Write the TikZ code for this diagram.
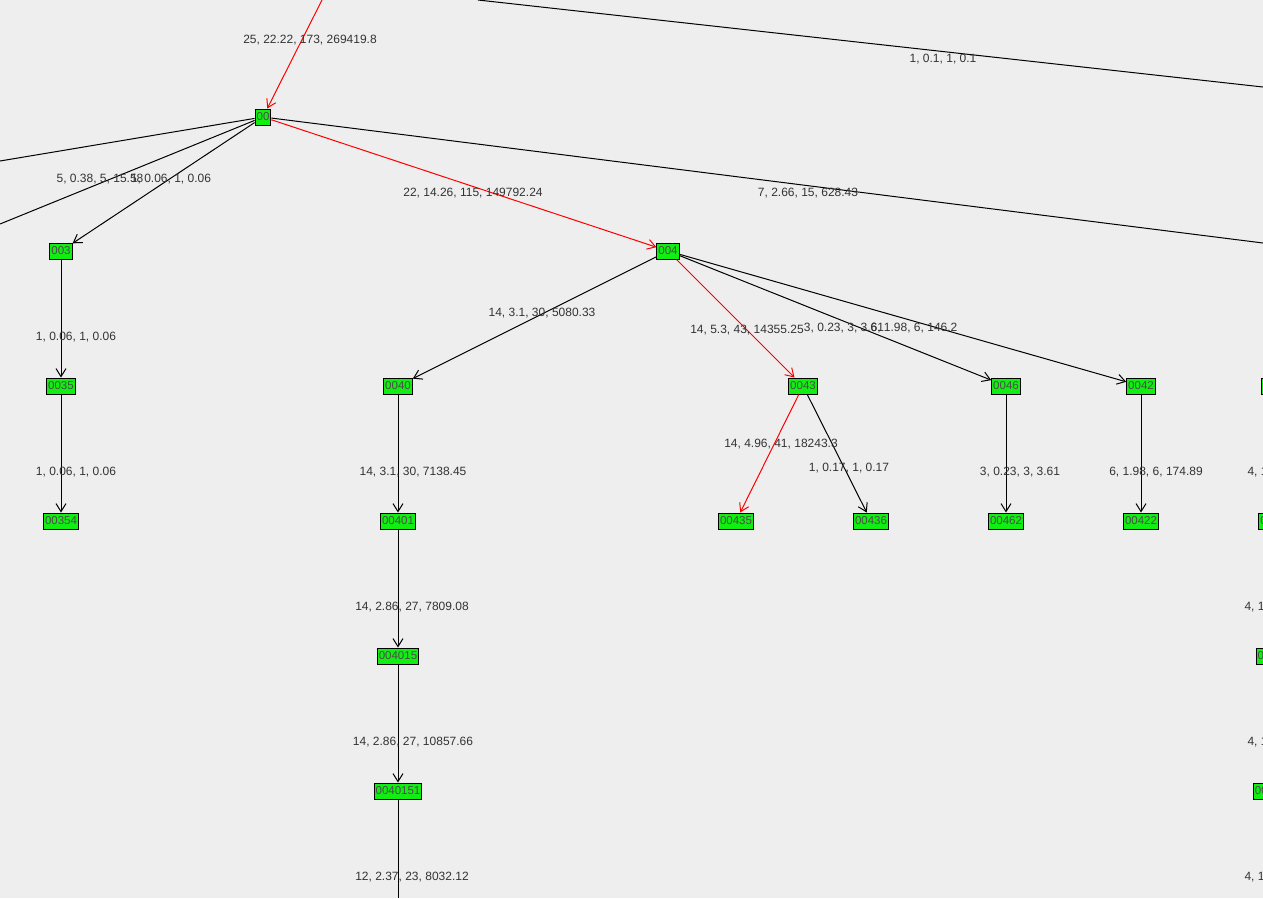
\documentclass[tikz,border=0pt]{standalone}
\usepackage{fontspec}
\setmainfont{Liberation Sans}
\usetikzlibrary{arrows.meta}
\definecolor{bg}{HTML}{EEEEEE}
\definecolor{ng}{HTML}{11EE11}
\definecolor{tx}{HTML}{333333}
\tikzset{
  nd/.style={draw=black,fill=ng,inner sep=1.5pt,minimum height=16pt,font=\fontsize{11.5}{11.5}\selectfont,text=black!70},
  ed/.style={draw=black,-{Straight Barb[length=8pt,width=10pt]}},
  red/.style={draw=red},
  lb/.style={font=\fontsize{12}{12}\selectfont,text=tx,inner sep=0pt}
}
\begin{document}
\begin{tikzpicture}[x=1pt,y=-1pt,line width=1pt]
\useasboundingbox (0,0) rectangle (1263,898);
\fill[bg] (0,0) rectangle (1263,898);
\clip (0,0) rectangle (1263,898);
\node[nd] (n00) at (263,117) {00};
\node[nd] (n003) at (61,251) {003};
\node[nd] (n0035) at (61,386) {0035};
\node[nd] (n00354) at (61,521) {00354};
\node[nd] (n004) at (668,251) {004};
\node[nd] (n0040) at (398,386) {0040};
\node[nd] (n00401) at (398,521) {00401};
\node[nd] (n004015) at (398,656) {004015};
\node[nd] (n0040151) at (398,791) {0040151};
\node[nd] (n0043) at (803,386) {0043};
\node[nd] (n00435) at (736,521) {00435};
\node[nd] (n00436) at (871,521) {00436};
\node[nd] (n0046) at (1006,386) {0046};
\node[nd] (n00462) at (1006,521) {00462};
\node[nd] (n0042) at (1141,386) {0042};
\node[nd] (n00422) at (1141,521) {00422};
\node[nd] (r1) at (1276,386) {0041};
\node[nd] (r2) at (1276,521) {00411};
\node[nd] (r3) at (1276,656) {004111};
\node[nd] (r4) at (1276,791) {0041111};
\coordinate (top) at (322,0);
\coordinate (pa) at (478,0);
\coordinate (pb) at (1263,87);
\coordinate (l1) at (0,161);
\coordinate (l2) at (0,224);
\coordinate (rr) at (1263,243);
\coordinate (bot) at (398,898);
\draw[ed,red] (top) -- (n00);
\draw (pa) -- (pb);
\draw (n00) -- (l1);
\draw (n00) -- (l2);
\draw (n00) -- (rr);
\draw[ed] (n00) -- (n003);
\draw[ed,red] (n00) -- (n004);
\draw[ed] (n003) -- (n0035);
\draw[ed] (n0035) -- (n00354);
\draw[ed] (n004) -- (n0040);
\draw[ed,red] (n004) -- (n0043);
\draw[ed] (n004) -- (n0046);
\draw[ed] (n004) -- (n0042);
\draw[ed] (n0040) -- (n00401);
\draw[ed] (n00401) -- (n004015);
\draw[ed] (n004015) -- (n0040151);
\draw (n0040151) -- (bot);
\draw[ed,red] (n0043) -- (n00435);
\draw[ed] (n0043) -- (n00436);
\draw[ed] (n0046) -- (n00462);
\draw[ed] (n0042) -- (n00422);
\draw[ed] (r1) -- (r2);
\draw[ed] (r2) -- (r3);
\draw[ed] (r3) -- (r4);
\node[lb] at (310,40) {25, 22.22, 173, 269419.8};
\node[lb] at (943,59) {1, 0.1, 1, 0.1};
\node[lb] at (100,179) {5, 0.38, 5, 15.58};
\node[lb] at (171,179) {1, 0.06, 1, 0.06};
\node[lb] at (473,193) {22, 14.26, 115, 149792.24};
\node[lb] at (808,193) {7, 2.66, 15, 628.43};
\node[lb] at (76,337) {1, 0.06, 1, 0.06};
\node[lb] at (76,472) {1, 0.06, 1, 0.06};
\node[lb] at (542,313) {14, 3.1, 30, 5080.33};
\node[lb] at (747,330) {14, 5.3, 43, 14355.25};
\node[lb] at (844,328) {3, 0.23, 3, 3.61};
\node[lb] at (914,328) {6, 1.98, 6, 146.2};
\node[lb] at (413,472) {14, 3.1, 30, 7138.45};
\node[lb] at (781,444) {14, 4.96, 41, 18243.3};
\node[lb] at (849,468) {1, 0.17, 1, 0.17};
\node[lb] at (1020,472) {3, 0.23, 3, 3.61};
\node[lb] at (1156,472) {6, 1.98, 6, 174.89};
\node[lb] at (412,607) {14, 2.86, 27, 7809.08};
\node[lb] at (413,742) {14, 2.86, 27, 10857.66};
\node[lb] at (412,877) {12, 2.37, 23, 8032.12};
\node[lb,anchor=west] at (1247,472) {4, 1.32, 4, 12.5};
\node[lb,anchor=west] at (1244,607) {4, 1.32, 4, 12.5};
\node[lb,anchor=west] at (1247,742) {4, 1.32, 4, 12.5};
\node[lb,anchor=west] at (1244,877) {4, 1.32, 4, 12.5};
\end{tikzpicture}
\end{document}
